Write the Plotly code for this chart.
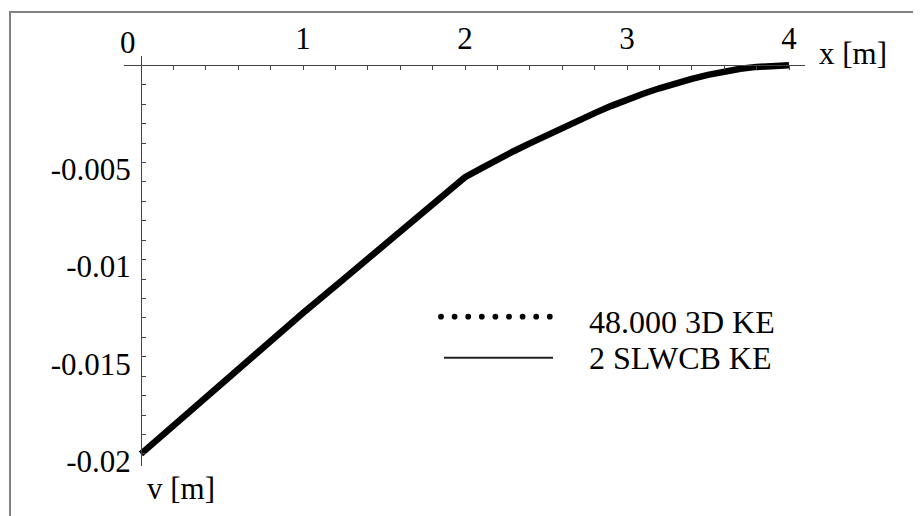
import plotly.graph_objects as go

# ---------------- data ----------------
x_m = [0.0, 0.25, 0.5, 0.75, 1.0, 1.25, 1.5, 1.75,
       2.0, 2.1, 2.2, 2.3, 2.4, 2.5, 2.6, 2.7, 2.8, 2.9,
       3.0, 3.1, 3.2, 3.3, 3.4, 3.5, 3.6, 3.7, 3.8, 3.9, 4.0]
v_3d_ke = [-0.0200, -0.01817, -0.01634, -0.01453, -0.01275, -0.01101, -0.00928, -0.00758,
           -0.00576, -0.00530, -0.00484, -0.00442, -0.00402, -0.00361, -0.00322, -0.00283, -0.00246, -0.00210,
           -0.00176, -0.00146, -0.00118, -0.00092, -0.00070, -0.00049, -0.00032, -0.00018, -0.00008, -0.00002, 0.0]
v_slwcb_ke = [-0.0200, -0.01817, -0.01634, -0.01453, -0.01275, -0.01101, -0.00928, -0.00758,
              -0.00576, -0.00530, -0.00484, -0.00442, -0.00402, -0.00361, -0.00322, -0.00283, -0.00246, -0.00210,
              -0.00176, -0.00146, -0.00118, -0.00092, -0.00070, -0.00049, -0.00032, -0.00018, -0.00008, -0.00002, 0.0]
series_names = ["48.000 3D KE", "2 SLWCB KE"]

x_tick_vals = [1, 2, 3, 4]
x_tick_text = ["1", "2", "3", "4"]
x_zero_label = "0"
y_tick_vals = [-0.005, -0.01, -0.015, -0.02]
y_tick_text = ["-0.005", "-0.01", "-0.015", "-0.02"]
x_title = "x [m]"
y_title = "v [m]"

# ---------------- layout constants ----------------
W, H = 921, 516
OFF = 8  # page body margin offset of the plot div
FONT = "Liberation Serif"
AX = "#444444"

def px_x(p):
    return (p - OFF) / W

def px_y(p):
    return 1 - (p - OFF) / H

x_minor = [round(i * 0.2, 1) for i in range(1, 20) if i % 5 != 0]
y_minor = [round(-i * 0.001, 3) for i in range(1, 20) if i % 5 != 0]

fig = go.Figure()
fig.add_trace(go.Scatter(x=x_m, y=v_3d_ke, name=series_names[0], mode="lines",
                         line=dict(color="black", width=6.5), showlegend=False))
fig.add_trace(go.Scatter(x=x_m, y=v_slwcb_ke, name=series_names[1], mode="lines",
                         line=dict(color="black", width=1.5), showlegend=False))

fig.update_layout(
    width=W, height=H,
    margin=dict(l=0, r=0, t=0, b=0),
    paper_bgcolor="white", plot_bgcolor="white",
    showlegend=False,
    font=dict(family=FONT, size=31, color="black"),
    xaxis=dict(
        domain=[px_x(124), px_x(805)],
        range=[(124 - 141) / 162, (805 - 141) / 162],
        anchor="free", position=px_y(66.7), side="top",
        showline=True, linecolor=AX, linewidth=1,
        showgrid=False, zeroline=False,
        tickmode="array", tickvals=x_tick_vals, ticktext=x_tick_text,
        ticks="inside", ticklen=4, tickcolor=AX, tickwidth=1,
        ticklabelstandoff=4,
        tickfont=dict(family=FONT, size=31, color="black"),
        minor=dict(tickmode="array", tickvals=x_minor, ticks="inside", ticklen=4,
                   tickcolor=AX, tickwidth=1, showgrid=False),
    ),
    yaxis=dict(
        domain=[px_y(477), px_y(57)],
        range=[-(477 - 66.7) / 19890, (66.7 - 57) / 19890],
        anchor="free", position=px_x(141), side="left",
        showline=True, linecolor=AX, linewidth=1,
        showgrid=False, zeroline=False,
        tickmode="array", tickvals=y_tick_vals, ticktext=y_tick_text,
        ticks="inside", ticklen=4, tickcolor=AX, tickwidth=1,
        ticklabelshift=7, ticklabelstandoff=4,
        tickfont=dict(family=FONT, size=31, color="black"),
        minor=dict(tickmode="array", tickvals=y_minor, ticks="inside", ticklen=4,
                   tickcolor=AX, tickwidth=1, showgrid=False),
    ),
)

shapes = []
# outer gray frame (cropped at right/bottom in the reference)
shapes.append(dict(type="rect", xref="paper", yref="paper",
                   x0=px_x(10), x1=1.2, y0=-0.2, y1=px_y(12),
                   line=dict(color="#808080", width=2), fillcolor="rgba(0,0,0,0)"))
# legend samples
for i in range(9):
    cx = 441 + i * 13.6
    cy = 324
    r = 2.9
    shapes.append(dict(type="circle", xref="paper", yref="paper",
                       x0=px_x(cx - r), x1=px_x(cx + r), y0=px_y(cy + r), y1=px_y(cy - r),
                       fillcolor="black", line=dict(width=0)))
shapes.append(dict(type="line", xref="paper", yref="paper",
                   x0=px_x(444), x1=px_x(553), y0=px_y(366), y1=px_y(366),
                   line=dict(color="#222222", width=2)))

annotations = [
    dict(text=series_names[0], xref="paper", yref="paper", x=px_x(587), y=px_y(329),
         xanchor="left", yanchor="middle", showarrow=False,
         font=dict(family=FONT, size=32, color="black")),
    dict(text=series_names[1], xref="paper", yref="paper", x=px_x(587), y=px_y(366),
         xanchor="left", yanchor="middle", showarrow=False,
         font=dict(family=FONT, size=32, color="black")),
    dict(text=x_title, xref="paper", yref="paper", x=px_x(817), y=px_y(55),
         xanchor="left", yanchor="middle", showarrow=False,
         font=dict(family=FONT, size=31, color="black")),
    dict(text=y_title, xref="paper", yref="paper", x=px_x(145), y=px_y(500),
         xanchor="left", yanchor="middle", showarrow=False,
         font=dict(family=FONT, size=31, color="black")),
    dict(text=x_zero_label, xref="paper", yref="paper", x=px_x(128), y=px_y(43),
         xanchor="center", yanchor="middle", showarrow=False,
         font=dict(family=FONT, size=31, color="black")),
]
fig.update_layout(shapes=shapes, annotations=annotations)

fig.write_html("out.html")
